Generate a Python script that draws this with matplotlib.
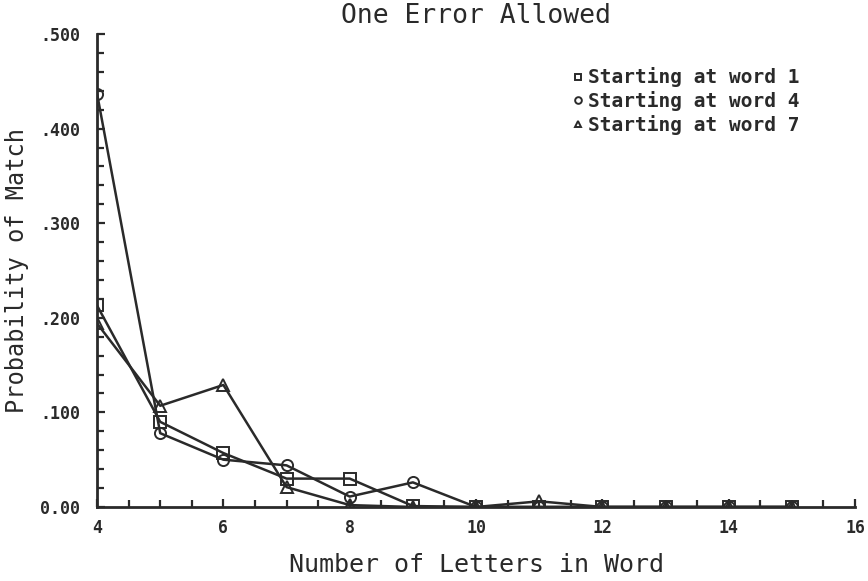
import matplotlib
matplotlib.use("Agg")
import matplotlib.pyplot as plt
from matplotlib.ticker import MultipleLocator, FixedLocator

# data
letters = [4, 5, 6, 7, 8, 9, 10, 11, 12, 13, 14, 15]
word1 = [0.213, 0.090, 0.057, 0.030, 0.030, 0.001, 0.0, 0.0, 0.0, 0.0, 0.0, 0.0]
word4 = [0.437, 0.078, 0.050, 0.044, 0.011, 0.026, 0.0, 0.0, 0.0, 0.0, 0.0, 0.0]
word7 = [0.194, 0.107, 0.129, 0.021, 0.002, 0.0, 0.0, 0.006, 0.0, 0.0, 0.0, 0.0]

y_ticks = [0.0, 0.1, 0.2, 0.3, 0.4, 0.5]
y_labels = ["0.00", ".100", ".200", ".300", ".400", ".500"]
x_ticks = [4, 6, 8, 10, 12, 14, 16]

font = "DejaVu Sans Mono"
ink = "#2a2a2a"

fig = plt.figure(figsize=(8.68, 5.81), dpi=100)
ax = fig.add_axes([0.1118, 0.1274, 0.8733, 0.8141])

style = dict(color=ink, lw=1.8, markersize=8, markerfacecolor="none",
             markeredgewidth=1.4)
ax.plot(letters, word1, marker="s", label="Starting at word 1", **style)
ax.plot(letters, word4, marker="o", label="Starting at word 4", **style)
ax.plot(letters, word7, marker="^", label="Starting at word 7", **style)

ax.set_xlim(4, 16)
ax.set_ylim(0, 0.5)
ax.xaxis.set_major_locator(FixedLocator(x_ticks))
ax.xaxis.set_minor_locator(MultipleLocator(0.5))
ax.set_yticks(y_ticks)
ax.set_yticklabels(y_labels)
ax.yaxis.set_minor_locator(MultipleLocator(0.02))

for side in ("top", "right"):
    ax.spines[side].set_visible(False)
for side in ("left", "bottom"):
    ax.spines[side].set_linewidth(2)
    ax.spines[side].set_color(ink)

ax.tick_params(which="both", direction="in", color=ink, width=1.6,
               labelsize=12, labelcolor=ink)
ax.tick_params(which="major", length=6)
ax.tick_params(which="minor", length=5)
ax.tick_params(axis="y", which="both", pad=12)
ax.tick_params(axis="x", which="both", pad=9)
for lab in ax.get_xticklabels() + ax.get_yticklabels():
    lab.set_fontfamily(font)
    lab.set_fontweight("bold")

ax.set_title("One Error Allowed", fontfamily=font, fontsize=19, color=ink, pad=8)
ax.set_xlabel("Number of Letters in Word", fontfamily=font, fontsize=18,
              color=ink, labelpad=11)
ax.set_ylabel("Probability of Match", fontfamily=font, fontsize=17,
              color=ink, labelpad=8)

leg = ax.legend(loc="upper right", bbox_to_anchor=(0.94, 0.95), frameon=False,
                prop={"family": font, "size": 14, "weight": "bold"},
                handlelength=0.5, handletextpad=0.3, labelspacing=0.2,
                borderpad=0, markerscale=0.6)
for h in leg.legend_handles:
    h.set_linestyle("none")
for t in leg.get_texts():
    t.set_color(ink)

fig.savefig("out.png", dpi=100)
